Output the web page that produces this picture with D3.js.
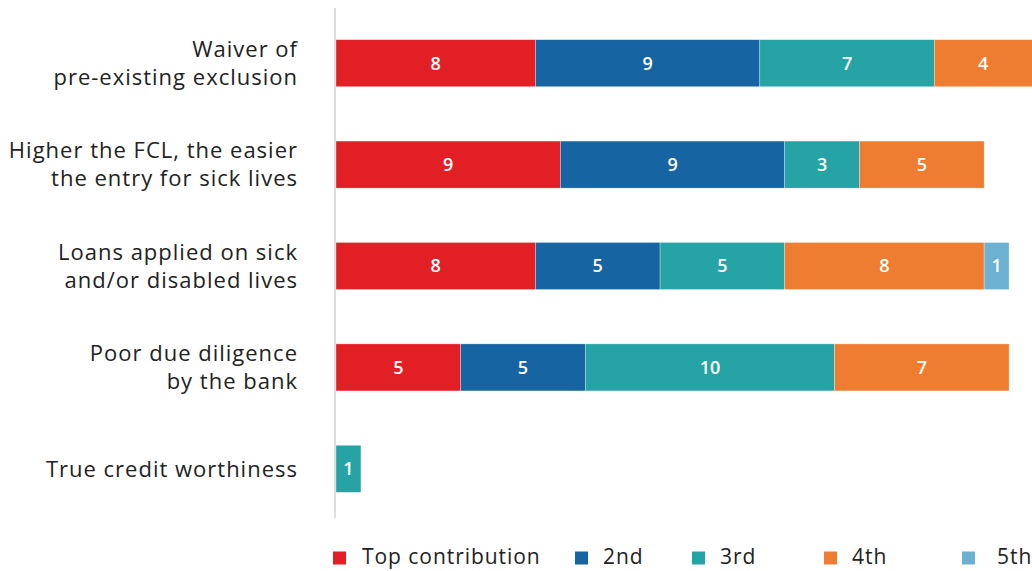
<!DOCTYPE html>
<html>
<head>
<meta charset="utf-8">
<script src="https://cdn.jsdelivr.net/npm/d3@7"></script>
<style>
  html, body { margin: 0; padding: 0; background: #fff; }
  svg { display: block; font-family: "Open Sans", Lato, sans-serif; }
</style>
</head>
<body>
<svg id="chart" width="1032" height="571"></svg>
<script>
// Categories (each label split into its drawn lines)
const categories = [
  ["Waiver of", "pre-existing exclusion"],
  ["Higher the FCL, the easier", "the entry for sick lives"],
  ["Loans applied on sick", "and/or disabled lives"],
  ["Poor due diligence", "by the bank"],
  ["True credit worthiness"]
];
const seriesNames = ["Top contribution", "2nd", "3rd", "4th", "5th"];
const seriesColors = ["#e31f26", "#1764a3", "#26a3a4", "#ee7d31", "#6cb1d1"];

// Counts per rank, one array per series, in category order
const topContribution = [8, 9, 8, 5, 0];
const second = [9, 9, 5, 5, 0];
const third = [7, 3, 5, 10, 1];
const fourth = [4, 5, 8, 7, 0];
const fifth = [0, 0, 1, 0, 0];

const seriesValues = [topContribution, second, third, fourth, fifth];
const keys = categories.map(c => c.join(" "));

const rows = keys.map((k, i) => {
  const r = { key: k };
  seriesNames.forEach((s, j) => { r[s] = seriesValues[j][i]; });
  return r;
});

const stacked = d3.stack().keys(seriesNames)(rows);

const svg = d3.select("#chart");

const x = d3.scaleLinear().domain([0, 28]).range([336, 1034]);
const y = d3.scaleBand()
  .domain(keys)
  .range([12.5, 519.5])
  .paddingInner(0.536)
  .paddingOuter(0.268);

// Vertical baseline
svg.append("line")
  .attr("x1", 335).attr("x2", 335)
  .attr("y1", 8).attr("y2", 518)
  .attr("stroke", "#dcdcdc")
  .attr("stroke-width", 2);

// Bars
const layer = svg.append("g").selectAll("g")
  .data(stacked)
  .join("g")
  .attr("fill", (d, i) => seriesColors[i]);

layer.selectAll("rect")
  .data(d => d.map(p => ({ p, key: d.key })))
  .join("rect")
  .attr("x", d => x(d.p[0]))
  .attr("y", d => y(d.p.data.key))
  .attr("width", d => x(d.p[1]) - x(d.p[0]))
  .attr("height", y.bandwidth())
  .attr("stroke", "rgba(255,255,255,0.5)")
  .attr("stroke-width", 0.6);

// Value labels
layer.selectAll("text")
  .data(d => d.filter(p => p[1] - p[0] > 0).map(p => ({ p, key: d.key })))
  .join("text")
  .attr("x", d => (x(d.p[0]) + Math.min(x(d.p[1]), 1032)) / 2)
  .attr("y", d => y(d.p.data.key) + y.bandwidth() / 2)
  .attr("dy", "0.36em")
  .attr("text-anchor", "middle")
  .attr("fill", "#fff")
  .attr("font-weight", 600)
  .attr("font-size", 18)
  .text(d => d.p[1] - d.p[0]);

// Category labels
const lineH = 28;
categories.forEach((lines, i) => {
  const cy = y(keys[i]) + y.bandwidth() / 2;
  const t = svg.append("text")
    .attr("text-anchor", "end")
    .attr("fill", "#222")
    .attr("font-size", 22)
    .attr("letter-spacing", 1.0);
  lines.forEach((ln, j) => {
    t.append("tspan")
      .attr("x", 298)
      .attr("y", cy + (j - (lines.length - 1) / 2) * lineH)
      .attr("dy", "0.35em")
      .text(ln);
  });
});

// Legend
const legendX = [333, 575, 692, 824, 962];
const legend = svg.append("g").selectAll("g")
  .data(seriesNames)
  .join("g")
  .attr("transform", (d, i) => `translate(${legendX[i]},558)`);
legend.append("rect")
  .attr("x", 0).attr("y", -6.5)
  .attr("width", 13).attr("height", 13)
  .attr("fill", (d, i) => seriesColors[i]);
legend.append("text")
  .attr("x", (d, i) => i === 4 ? 35 : (i === 0 ? 29 : 28))
  .attr("dy", "0.3em")
  .attr("fill", "#222")
  .attr("font-size", 21)
  .attr("letter-spacing", 0.95)
  .text(d => d);
</script>
</body>
</html>
